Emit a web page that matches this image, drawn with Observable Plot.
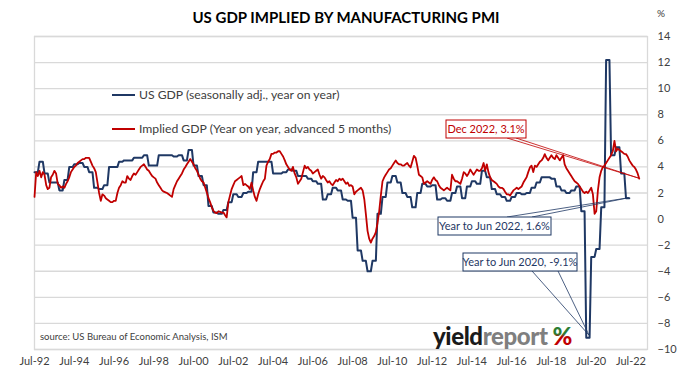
<!DOCTYPE html>
<html><head><meta charset="utf-8">
<script src="https://cdn.jsdelivr.net/npm/d3@7"></script>
<script src="https://cdn.jsdelivr.net/npm/@observablehq/plot@0.6"></script>
<style>
body{margin:0;background:#fff;}
#chart{width:680px;height:373px;}
svg{font-family:Lato,"Open Sans",sans-serif;}
</style></head><body><div id="chart"></div>
<script>
// Series start: July 1992 (month index 0)
const seriesStart = [1992, 6];

// US GDP, seasonally adjusted, year on year (%), quarterly from Q3 1992 to Q2 2022
const gdpQuarterly = [
  3.6, 4.4,                 // 1992 Q3-Q4
  3.5, 2.8, 2.8, 2.2,       // 1993
  3.0, 4.0, 4.2, 4.3,       // 1994
  4.0, 3.6, 2.4, 2.3,       // 1995
  2.6, 4.0, 4.0, 4.4,       // 1996
  4.5, 4.5, 4.7, 4.7,       // 1997
  4.9, 4.1, 4.1, 4.9,       // 1998
  4.9, 4.9, 4.8, 4.9,       // 1999
  4.5, 5.3, 4.1, 3.3,       // 2000
  2.6, 1.0, 0.5, 0.4,       // 2001
  0.7, 1.3, 1.9, 1.7,       // 2002
  2.0, 2.1, 3.6, 4.4,       // 2003
  4.4, 4.4, 3.5, 3.5,       // 2004
  3.6, 3.8, 3.7, 3.3,       // 2005
  3.3, 3.1, 2.9, 2.7,       // 2006
  1.5, 1.9, 2.4, 2.2,       // 2007
  1.5, 1.4, 0.1, -2.4,      // 2008
  -3.2, -4.0, -3.2, 0.4,    // 2009
  1.7, 2.8, 3.3, 2.8,       // 2010
  2.0, 1.7, 0.9, 2.0,       // 2011
  2.7, 2.5, 2.6, 1.5,       // 2012
  1.6, 1.4, 2.0, 2.5,       // 2013
  1.6, 2.5, 2.9, 2.7,       // 2014
  3.7, 3.2, 2.3, 1.9,       // 2015
  1.7, 1.4, 1.7, 2.0,       // 2016
  1.9, 2.0, 2.4, 2.8,       // 2017
  3.2, 3.2, 3.1, 2.5,       // 2018
  2.2, 2.0, 2.2, 2.5,       // 2019
  0.6, -9.1, -2.9, -2.3,    // 2020
  0.9, 12.2, 4.9, 5.5,      // 2021
  3.5, 1.6                  // 2022 Q1-Q2
];

// Implied GDP from manufacturing PMI (year on year, advanced 5 months), monthly Jul 1992 - Dec 2022
const impliedMonthly = [
  1.7, 3.6, 3.3, 3.7, 3.2, 3.6,                               // 1992 Jul-Dec
  3.4, 2.6, 2.3, 2.4, 3.2, 3.4, 3.7, 3.5, 2.7, 2.6, 2.4, 2.5, // 1993
  2.4, 2.7, 2.9, 3.2, 3.6, 3.8, 4.0, 4.1, 4.3, 4.4, 4.5, 4.6, // 1994
  4.6, 4.7, 4.7, 4.7, 4.4, 4.1, 3.9, 3.6, 2.8, 2.0, 1.4, 1.9, // 1995
  1.8, 1.6, 1.5, 1.4, 1.3, 1.3, 1.4, 1.4, 2.0, 2.4, 2.6, 2.9, // 1996
  2.8, 2.8, 3.3, 3.1, 3.0, 3.3, 3.5, 3.4, 3.6, 3.8, 4.0, 4.1, // 1997
  4.2, 4.0, 3.8, 3.7, 3.5, 3.3, 3.2, 3.1, 2.8, 2.6, 2.4, 2.2, // 1998
  2.1, 2.05, 2.0, 1.9, 1.8, 1.7, 2.3, 2.6, 2.9, 3.1, 3.3, 3.5, // 1999
  3.8, 4.0, 4.2, 4.4, 4.6, 4.4, 4.2, 3.9, 3.7, 3.4, 3.1, 2.9, // 2000
  2.8, 2.4, 2.05, 1.6, 1.3, 0.9, 0.64, 0.5, 0.46, 0.6, 0.55, 0.5, // 2001
  0.5, 0.3, 0.13, 1.3, 1.8, 2.3, 2.6, 2.9, 3.0, 3.1, 3.2, 3.3, // 2002
  2.6, 2.7, 2.6, 2.5, 2.3, 2.8, 2.2, 1.7, 1.4, 1.9, 2.3, 2.6, // 2003
  2.9, 3.1, 4.1, 4.4, 4.6, 5.0, 5.0, 5.1, 5.1, 5.2, 5.2, 5.0, // 2004
  4.8, 4.5, 4.2, 4.0, 3.8, 3.7, 4.0, 3.5, 3.2, 2.7, 2.9, 3.1, // 2005
  3.6, 4.1, 3.9, 4.0, 3.8, 3.7, 3.5, 3.6, 3.7, 3.8, 3.4, 3.1, // 2006
  3.3, 3.2, 3.0, 2.8, 2.9, 2.7, 2.6, 2.8, 3.0, 2.9, 3.1, 3.0, // 2007
  3.1, 2.9, 2.7, 2.8, 2.55, 2.6, 2.5, 1.9, 2.1, 2.2, 2.3, 2.4, // 2008
  2.2, 1.5, 0.4, -0.9, -1.5, -1.8, -1.5, -1.3, -1.0, -0.3, 0.6, 1.8, // 2009
  2.9, 3.2, 3.4, 3.6, 3.8, 3.9, 4.1, 4.3, 4.5, 4.3, 4.2, 4.2, // 2010
  4.1, 4.1, 4.2, 4.3, 4.1, 3.96, 4.4, 4.85, 4.7, 4.1, 3.4, 3.3, // 2011
  3.2, 2.7, 2.8, 2.9, 2.8, 2.7, 3.0, 3.2, 3.0, 2.9, 2.6, 2.4, // 2012
  2.3, 2.2, 2.3, 2.4, 2.3, 2.2, 3.4, 3.1, 2.9, 2.9, 2.8, 2.7, // 2013
  3.1, 3.6, 3.5, 3.3, 3.5, 3.8, 3.6, 3.4, 3.6, 3.8, 3.7, 3.7, // 2014
  3.9, 4.3, 3.7, 4.2, 3.6, 3.2, 3.0, 2.9, 2.8, 2.7, 2.5, 2.4, // 2015
  2.4, 2.3, 2.1, 1.9, 1.9, 1.8, 2.0, 2.2, 2.3, 2.4, 2.3, 2.4, // 2016
  2.5, 2.8, 3.0, 3.2, 3.6, 3.96, 4.1, 3.6, 4.1, 4.0, 4.2, 4.4, // 2017
  4.5, 4.7, 4.98, 4.7, 4.5, 4.7, 4.9, 4.7, 4.6, 4.9, 4.7, 4.5, // 2018
  4.7, 4.9, 4.2, 3.9, 3.7, 3.5, 3.3, 3.1, 2.9, 2.8, 2.7, 2.5, // 2019
  2.3, 2.1, 2.0, 2.1, 2.0, 2.2, 2.4, 1.9, 0.4, 0.6, 2.2, 3.2, // 2020
  3.7, 4.0, 4.1, 4.3, 4.5, 4.7, 4.9, 5.2, 6.0, 5.2, 5.4, 5.3, // 2021
  5.2, 5.1, 5.0, 4.98, 4.8, 4.5, 4.3, 4.1, 4.0, 3.8, 3.5, 3.1 // 2022
];

const yTicks = [-10, -8, -6, -4, -2, 0, 2, 4, 6, 8, 10, 12, 14];
const xTickYears = [1992, 1994, 1996, 1998, 2000, 2002, 2004, 2006, 2008, 2010, 2012, 2014, 2016, 2018, 2020, 2022];
const seriesNames = ["US GDP (seasonally adj., year on year)", "Implied GDP (Year on year, advanced 5 months)"];
const calloutLabels = ["Dec 2022, 3.1%", "Year to Jun 2022, 1.6%", "Year to Jun 2020, -9.1%"];

const BLUE = "#1f3864", RED = "#c00000";
const monthDate = m => new Date(Date.UTC(seriesStart[0], seriesStart[1] + m, 1));

const gdpData = gdpQuarterly.flatMap((v, q) => [0, 1, 2].map(k => ({date: monthDate(3 * q + k), value: v})));
const impliedData = impliedMonthly.map((v, m) => ({date: monthDate(m), value: v}));
const xTicks = xTickYears.map(y => new Date(Date.UTC(y, 6, 1)));

const plot = Plot.plot({
  width: 680, height: 373,
  marginLeft: 34, marginRight: 33, marginTop: 36, marginBottom: 24,
  style: {fontFamily: "Lato, 'Open Sans', sans-serif", background: "#fff"},
  x: {type: "utc", domain: [monthDate(0), monthDate(370)], label: null},
  y: {domain: [-10, 14], label: null},
  marks: [
    Plot.gridY(yTicks, {stroke: "#d9d9d9", strokeOpacity: 1, strokeWidth: 1.3}),
    Plot.frame({stroke: "#d9d9d9", strokeWidth: 1.3}),
    Plot.axisY(yTicks, {anchor: "right", label: null, tickSize: 0, tickPadding: 10, textAnchor: "start", fontSize: 11, fill: "#404040"}),
    Plot.axisX(xTicks, {anchor: "bottom", label: null, tickSize: 0, tickPadding: 8, fontSize: 11, fill: "#404040",
      tickFormat: d => "Jul-" + String(d.getUTCFullYear()).slice(2)}),
    Plot.lineY(gdpData, {x: "date", y: "value", stroke: BLUE, strokeWidth: 2}),
    Plot.lineY(impliedData, {x: "date", y: "value", stroke: RED, strokeWidth: 1.8})
  ]
});

document.getElementById("chart").appendChild(plot);

const sx = plot.scale("x"), sy = plot.scale("y");
const svg = d3.select(plot);
const g = svg.append("g").attr("text-anchor", "start");

// Title and unit
g.append("text").attr("x", 346).attr("y", 23).attr("text-anchor", "middle")
  .attr("font-size", 15).attr("font-weight", "bold").attr("fill", "#000")
  .text("US GDP IMPLIED BY MANUFACTURING PMI");
g.append("text").attr("x", 657).attr("y", 17).attr("font-size", 10).attr("fill", "#404040").text("%");

// Legend
[[BLUE, 95], [RED, 129]].forEach(([c, y], i) => {
  g.append("line").attr("x1", 112).attr("x2", 135).attr("y1", y).attr("y2", y).attr("stroke", c).attr("stroke-width", 2);
  g.append("text").attr("x", 139).attr("y", y + 4.2).attr("font-size", 12.2).attr("fill", "#404040").text(seriesNames[i]);
});

// Callouts
function callout(label, color, box, base, pt) {
  g.append("path").attr("d", `M${base[0]},${base[1]}L${pt[0]},${pt[1]}L${base[2]},${base[3]}`)
    .attr("fill", "none").attr("stroke", color).attr("stroke-width", 0.8);
  g.append("rect").attr("x", box[0]).attr("y", box[1]).attr("width", box[2]).attr("height", box[3])
    .attr("fill", "#fff").attr("stroke", color).attr("stroke-width", 1);
  g.append("text").attr("x", box[0] + box[2] / 2).attr("y", box[1] + box[3] / 2 + 4)
    .attr("text-anchor", "middle").attr("font-size", 11).attr("fill", color).text(label);
}
const lastRed = impliedData[impliedData.length - 1];
const lastBlue = gdpData[gdpData.length - 1];
const minBlue = gdpData.reduce((a, b) => (b.value < a.value ? b : a));
const minBlueLast = gdpData.filter(d => d.value === minBlue.value).pop();
callout(calloutLabels[0], RED, [446, 120, 80, 18], [507, 138, 516, 138], [sx.apply(lastRed.date), sy.apply(lastRed.value)]);
callout(calloutLabels[1], BLUE, [438, 217, 113, 18], [507, 217, 532, 217], [sx.apply(lastBlue.date), sy.apply(lastBlue.value)]);
callout(calloutLabels[2], BLUE, [463, 253, 114, 18], [532, 271, 558, 271], [sx.apply(minBlueLast.date), sy.apply(minBlueLast.value) - 2]);

// Source
g.append("text").attr("x", 40).attr("y", 340).attr("font-size", 9.5).attr("fill", "#404040")
  .text("source: US Bureau of Economic Analysis, ISM");

// Logo
const defs = svg.append("defs");
const grad = defs.append("linearGradient").attr("id", "pct").attr("x1", 0).attr("y1", 0).attr("x2", 0).attr("y2", 1);
grad.append("stop").attr("offset", "0%").attr("stop-color", "#2e7d32");
grad.append("stop").attr("offset", "45%").attr("stop-color", "#2e7d32");
grad.append("stop").attr("offset", "55%").attr("stop-color", "#c00000");
grad.append("stop").attr("offset", "100%").attr("stop-color", "#c00000");
const logo = g.append("text").attr("x", 433).attr("y", 345).attr("font-size", 24).attr("font-weight", 900).attr("letter-spacing", -0.4);
logo.append("tspan").attr("fill", "#1a1a1a").text("yield");
logo.append("tspan").attr("fill", "#7f7f7f").text("report");
logo.append("tspan").attr("fill", "url(#pct)").attr("dx", 5).text("%");
</script>
</body></html>
